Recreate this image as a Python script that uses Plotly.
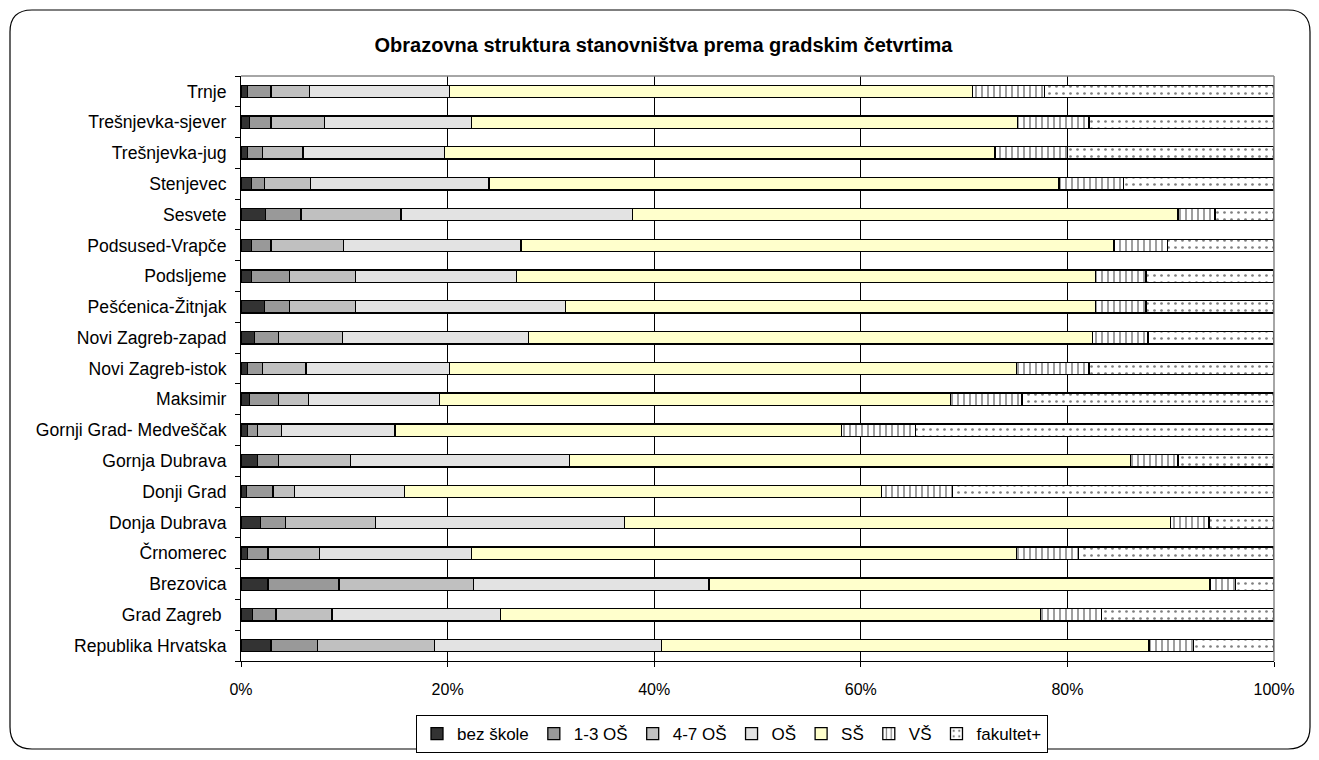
import plotly.graph_objects as go

categories = [
    "Republika Hrvatska", "Grad Zagreb ", "Brezovica", "Črnomerec", "Donja Dubrava",
    "Donji Grad", "Gornja Dubrava", "Gornji Grad- Medveščak", "Maksimir",
    "Novi Zagreb-istok", "Novi Zagreb-zapad", "Pešćenica-Žitnjak", "Podsljeme",
    "Podsused-Vrapče", "Sesvete", "Stenjevec", "Trešnjevka-jug", "Trešnjevka-sjever", "Trnje",
]

bez_skole = [2.9, 1.1, 2.6, 0.6, 1.9, 0.5, 1.6, 0.6, 0.8, 0.6, 1.3, 2.3, 1.0, 1.0, 2.4, 1.0, 0.6, 0.8, 0.6]
os_1_3 = [4.5, 2.3, 6.9, 2.0, 2.4, 2.6, 2.0, 1.0, 2.8, 1.5, 2.3, 2.4, 3.7, 1.9, 3.4, 1.3, 1.5, 2.1, 2.3]
os_4_7 = [11.3, 5.4, 13.0, 5.0, 8.7, 2.1, 7.0, 2.3, 2.9, 4.2, 6.2, 6.4, 6.4, 7.0, 9.7, 4.4, 3.9, 5.2, 3.7]
os_full = [22.0, 16.3, 22.8, 14.7, 24.1, 10.6, 21.2, 11.0, 12.7, 13.9, 18.0, 20.3, 15.6, 17.2, 22.4, 17.3, 13.7, 14.2, 13.6]
ss = [47.2, 52.3, 48.5, 52.8, 52.9, 46.2, 54.3, 43.2, 49.5, 54.9, 54.6, 51.3, 56.0, 57.4, 52.8, 55.2, 53.3, 52.9, 50.6]
vs = [4.3, 5.9, 2.5, 6.0, 3.7, 6.9, 4.6, 7.2, 6.9, 7.0, 5.4, 4.9, 4.9, 5.2, 3.6, 6.2, 7.0, 6.9, 7.0]
fakultet = [7.8, 16.7, 3.7, 18.9, 6.3, 31.1, 9.3, 34.7, 24.4, 17.9, 12.2, 12.4, 12.4, 10.3, 5.7, 14.6, 20.0, 17.9, 22.2]

tick_vals = [0, 20, 40, 60, 80, 100]
tick_text = ["0%", "20%", "40%", "60%", "80%", "100%"]

series = [
    ("bez škole", bez_skole, "#333333", None),
    ("1-3 OŠ", os_1_3, "#999999", None),
    ("4-7 OŠ", os_4_7, "#c0c0c0", None),
    ("OŠ", os_full, "#e3e3e3", None),
    ("SŠ", ss, "#ffffcc", None),
    ("VŠ", vs, "#ffffff", dict(shape="|", fgcolor="#000000", bgcolor="#ffffff", size=6, solidity=0.25)),
    ("fakultet+", fakultet, "#ffffff", dict(shape=".", fgcolor="#000000", bgcolor="#ffffff", size=7, solidity=0.12)),
]

fig = go.Figure()
for name, vals, color, pattern in series:
    marker = dict(color=color, line=dict(color="#000000", width=1.3))
    if pattern:
        marker["pattern"] = pattern
    fig.add_trace(go.Bar(y=categories, x=vals, name=name, orientation="h", marker=marker))

# page has an 8px body margin; geometry below is in page pixels
OFF = 8
FW, FH = 1319 - OFF, 760 - OFF
L, R, T, B = 241, 1274, 76, 661
W, H = R - L, B - T

def px(x):
    return (x - L) / W

def py(y):
    return (B - y) / H

x0, x1, y0, y1, r = 10, 1310, 10, 749, 22
frame = (
    f"M {px(x0 + r)},{py(y0)} L {px(x1 - r)},{py(y0)} Q {px(x1)},{py(y0)} {px(x1)},{py(y0 + r)} "
    f"L {px(x1)},{py(y1 - r)} Q {px(x1)},{py(y1)} {px(x1 - r)},{py(y1)} "
    f"L {px(x0 + r)},{py(y1)} Q {px(x0)},{py(y1)} {px(x0)},{py(y1 - r)} "
    f"L {px(x0)},{py(y0 + r)} Q {px(x0)},{py(y0)} {px(x0 + r)},{py(y0)} Z"
)

fig.update_layout(
    barmode="stack",
    bargap=0.6,
    width=FW,
    height=FH,
    margin=dict(l=L - OFF, r=FW - (R - OFF), t=T - OFF, b=FH - (B - OFF), autoexpand=False),
    paper_bgcolor="#ffffff",
    plot_bgcolor="#ffffff",
    font=dict(family="Liberation Sans, Arial, sans-serif", color="#000000", size=17),
    title=dict(
        text="<b>Obrazovna struktura stanovništva prema gradskim četvrtima</b>",
        x=0.5, xanchor="center", y=1 - (45 - OFF) / FH, yanchor="middle",
        font=dict(size=20, color="#000000"),
    ),
    xaxis=dict(
        range=[0, 100], tickmode="array", tickvals=tick_vals, ticktext=tick_text,
        showgrid=True, gridcolor="#000000", gridwidth=1,
        showline=True, linecolor="#000000", linewidth=1,
        ticks="outside", ticklen=5, tickcolor="#000000",
        zeroline=False, ticklabelstandoff=9,
        tickfont=dict(size=16),
    ),
    yaxis=dict(
        categoryorder="array", categoryarray=categories,
        showline=True, linecolor="#000000", linewidth=1,
        ticks="outside", ticklen=5, tickcolor="#000000", tickson="boundaries",
        showgrid=False, zeroline=False, ticklabelstandoff=10,
        tickfont=dict(size=17.6),
    ),
    legend=dict(
        orientation="h", x=px(732), xanchor="center", y=py(715), yanchor="top",
        bordercolor="#000000", borderwidth=1, font=dict(size=17),
        traceorder="normal", itemwidth=30, tracegroupgap=0,
    ),
    showlegend=True,
    shapes=[
        dict(type="line", xref="paper", yref="paper", x0=0, x1=1, y0=1, y1=1,
             line=dict(color="#888888", width=1.5), layer="above"),
        dict(type="line", xref="paper", yref="paper", x0=1, x1=1, y0=0, y1=1,
             line=dict(color="#888888", width=1.5), layer="above"),
        dict(type="path", xref="paper", yref="paper", path=frame,
             line=dict(color="#000000", width=1.2), fillcolor="rgba(0,0,0,0)", layer="above"),
    ],
)

fig.write_html("out.html")
